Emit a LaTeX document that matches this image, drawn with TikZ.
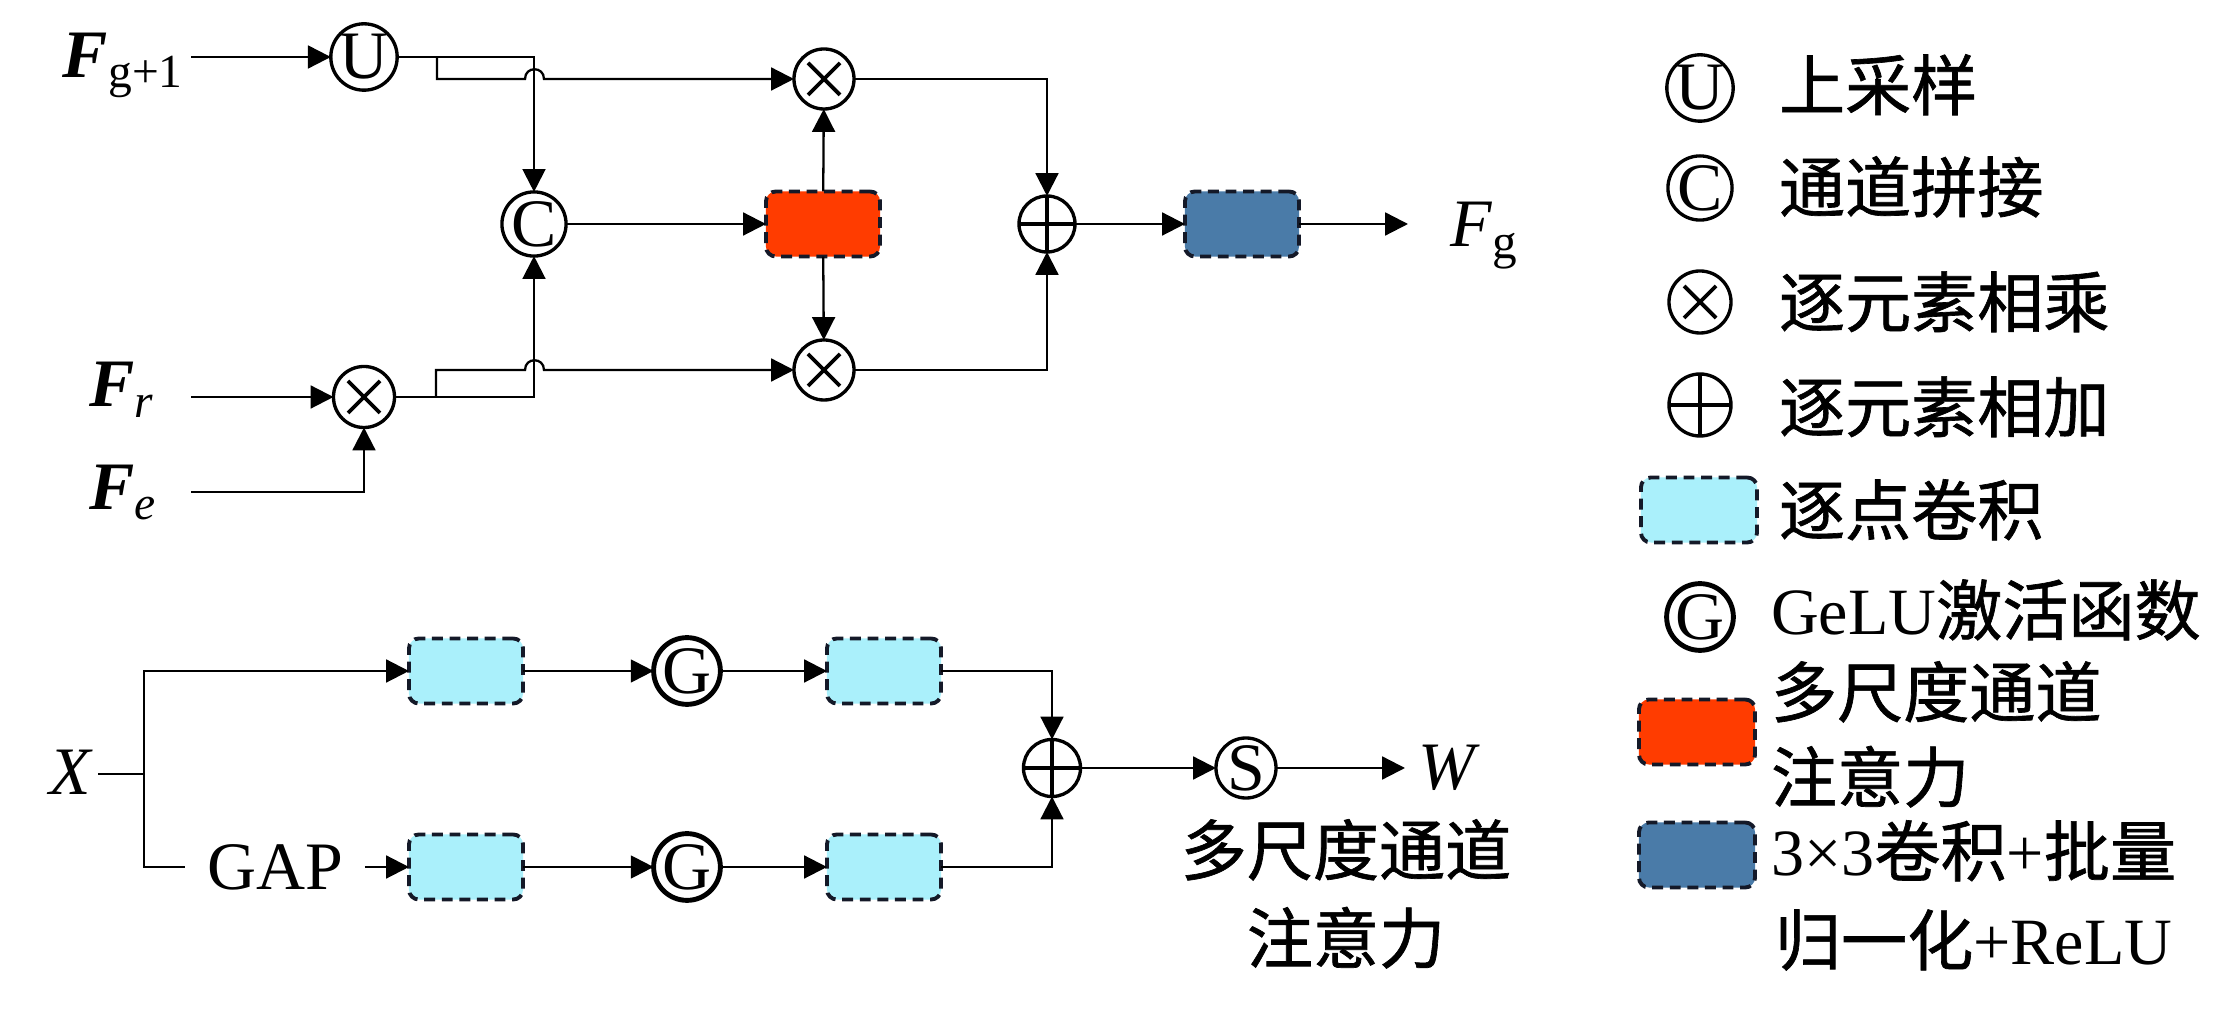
\documentclass[tikz,border=0pt]{standalone}
\usepackage{fontspec}
\setmainfont{Liberation Serif}
\newfontfamily\cjk{Noto Sans CJK SC}[FakeBold=1]
\usetikzlibrary{arrows.meta,calc}
\definecolor{pwc}{RGB}{170,240,251}
\definecolor{redc}{RGB}{255,60,0}
\definecolor{bluec}{RGB}{74,123,168}
\definecolor{dashc}{RGB}{20,25,40}
\begin{document}
\begin{tikzpicture}[x=0.01cm,y=-0.01cm,
  every node/.style={inner sep=0pt, outer sep=0pt, font=\fontsize{19.3pt}{23pt}\selectfont},
  conn/.style={line width=0.65pt},
  arr/.style={conn, -{Triangle[length=6.5pt,width=6.5pt]}},
  op/.style={circle, draw, line width=0.95pt, minimum size=0.61cm},
  gop/.style={op, line width=1.4pt},
  mulop/.style={op, path picture={\draw[line width=1.1pt] (path picture bounding box.center) +(-16,-16) -- +(16,16) +(-16,16) -- +(16,-16);}},
  addop/.style={op, path picture={\draw[line width=1.3pt] (path picture bounding box.center) +(-40,0) -- +(40,0) +(0,-40) -- +(0,40);}},
  blk/.style={draw=dashc, line width=1.1pt, dash pattern=on 3.1pt off 1.9pt, rounded corners=2.8pt, minimum width=1.14cm, minimum height=0.65cm},
  pwbox/.style={blk, fill=pwc},
  redbox/.style={blk, fill=redc},
  bluebox/.style={blk, fill=bluec},
  cjkt/.style={font=\fontsize{18.8pt}{23pt}\selectfont\cjk},
  legt/.style={font=\fontsize{18.8pt}{23pt}\selectfont, anchor=base west},
  subs/.style={}
]
\useasboundingbox (0,0) rectangle (2238,1013);

% ---------- upper part ----------
\node[anchor=base west] (Lg1) at (63,78) {\textbf{\textit{F}}\raisebox{-0.1cm}{\fontsize{13.5pt}{15pt}\selectfont g+1}};
\node[anchor=base west] (Lr) at (89,407) {\textbf{\textit{F}}\raisebox{-0.1cm}{\fontsize{13.5pt}{15pt}\selectfont\itshape r}};
\node[anchor=base west] (Le) at (89,510) {\textbf{\textit{F}}\raisebox{-0.1cm}{\fontsize{13.5pt}{15pt}\selectfont\itshape e}};

\coordinate (g0) at (191,57);
\coordinate (r0) at (191,397);
\coordinate (e0) at (191,492);

\node[op] (U) at (364,57) {U};
\node[op] (C) at (534,224) {C};
\node[mulop] (mr) at (364,397) {};
\node[mulop, minimum size=0.6cm] (m1) at (824,79) {};
\node[mulop, minimum size=0.6cm] (m2) at (824,370) {};
\node[redbox] (red) at (823,224) {};
\node[addop, minimum size=0.56cm] (add1) at (1047,224) {};
\node[bluebox] (blue) at (1242,224) {};
\coordinate (fgend) at (1408,224);
\node[anchor=base west] (Lg) at (1450,247) {\textit{F}\raisebox{-0.12cm}{\fontsize{14pt}{15pt}\selectfont g}};

\draw[arr] (g0) -- (U);
\draw[arr] (r0) -- (mr);
\draw[arr] (e0) -| (mr);
\draw[arr] (U) -- (U -| C) -- (C);
\coordinate (j1) at (437,57);
\draw[arr] (j1) -- (437,79) -- (525,79) .. controls (525,66) and (544,66) .. (544,79) -- (m1);
\draw[arr] (mr) -- (mr -| C) -- (C);
\coordinate (j2) at (436,397);
\draw[arr] (j2) -- (436,370) -- (525,370) .. controls (525,357) and (544,357) .. (544,370) -- (m2);
\draw[arr] (C) -- (red);
\draw[arr] (red) -- (m1);
\draw[arr] (red) -- (m2);
\draw[arr] (m1) -| (add1);
\draw[arr] (m2) -| (add1);
\draw[arr] (add1) -- (blue);
\draw[arr] (blue) -- (fgend);

% ---------- lower part ----------
\node[anchor=base west] (LX) at (49,795) {\textit{X}};
\coordinate (x0) at (98,774);
\coordinate (jx) at (144,774);
\node[inner xsep=0.22cm] (GAP) at (275,867) {GAP};
\node[pwbox] (pw1) at (466,671) {};
\node[gop] (G1) at (687,671) {G};
\node[pwbox] (pw2) at (884,671) {};
\node[pwbox] (pw3) at (466,867) {};
\node[gop] (G2) at (687,867) {G};
\node[pwbox] (pw4) at (884,867) {};
\node[addop, minimum size=0.57cm] (add2) at (1052,768) {};
\node[op, minimum size=0.6cm] (S) at (1246,768) {S};
\coordinate (wend) at (1405,768);
\node[anchor=base west] (LW) at (1418,790) {\textit{W}};
\node[cjkt, anchor=base] (T1) at (1346,875) {多尺度通道};
\node[cjkt, anchor=base] (T2) at (1346,963) {注意力};

\draw[conn] (x0) -- (jx);
\draw[arr] (jx) |- (pw1);
\draw[conn] (jx) |- (GAP.west);
\draw[arr] (GAP) -- (pw3);
\draw[arr] (pw1) -- (G1);
\draw[arr] (G1) -- (pw2);
\draw[arr] (pw3) -- (G2);
\draw[arr] (G2) -- (pw4);
\draw[arr] (pw2) -| (add2);
\draw[arr] (pw4) -| (add2);
\draw[arr] (add2) -- (S);
\draw[arr] (S) -- (wend);

% ---------- legend ----------
\node[op, minimum size=0.62cm] (lU) at (1700,88) {U};
\node[op, minimum size=0.62cm] (lC) at (1700,188) {C};
\node[mulop, minimum size=0.62cm] (lM) at (1700,302) {};
\node[addop, minimum size=0.62cm] (lA) at (1700,405) {};
\node[pwbox, minimum width=1.16cm] (lpw) at (1699,510) {};
\node[gop, minimum size=0.62cm] (lG) at (1700,617) {G};
\node[redbox, minimum width=1.16cm] (lred) at (1697,732) {};
\node[bluebox, minimum width=1.16cm] (lblue) at (1697,855) {};

\node[legt] (t1) at (1779,110) {\cjk 上采样};
\node[legt] (t2) at (1779,212) {\cjk 通道拼接};
\node[legt] (t3) at (1779,327) {\cjk 逐元素相乘};
\node[legt] (t4) at (1779,432) {\cjk 逐元素相加};
\node[legt] (t5) at (1779,535) {\cjk 逐点卷积};
\node[legt] (t6) at (1771,635) {GeLU{\cjk 激活函数}};
\node[legt] (t7) at (1771,717) {\cjk 多尺度通道};
\node[legt] (t8) at (1771,802) {\cjk 注意力};
\node[legt] (t9) at (1771,876) {3×3{\cjk 卷积}+{\cjk 批量}};
\node[legt] (t10) at (1775,965) {{\cjk 归一化}+ReLU};
\end{tikzpicture}
\end{document}
